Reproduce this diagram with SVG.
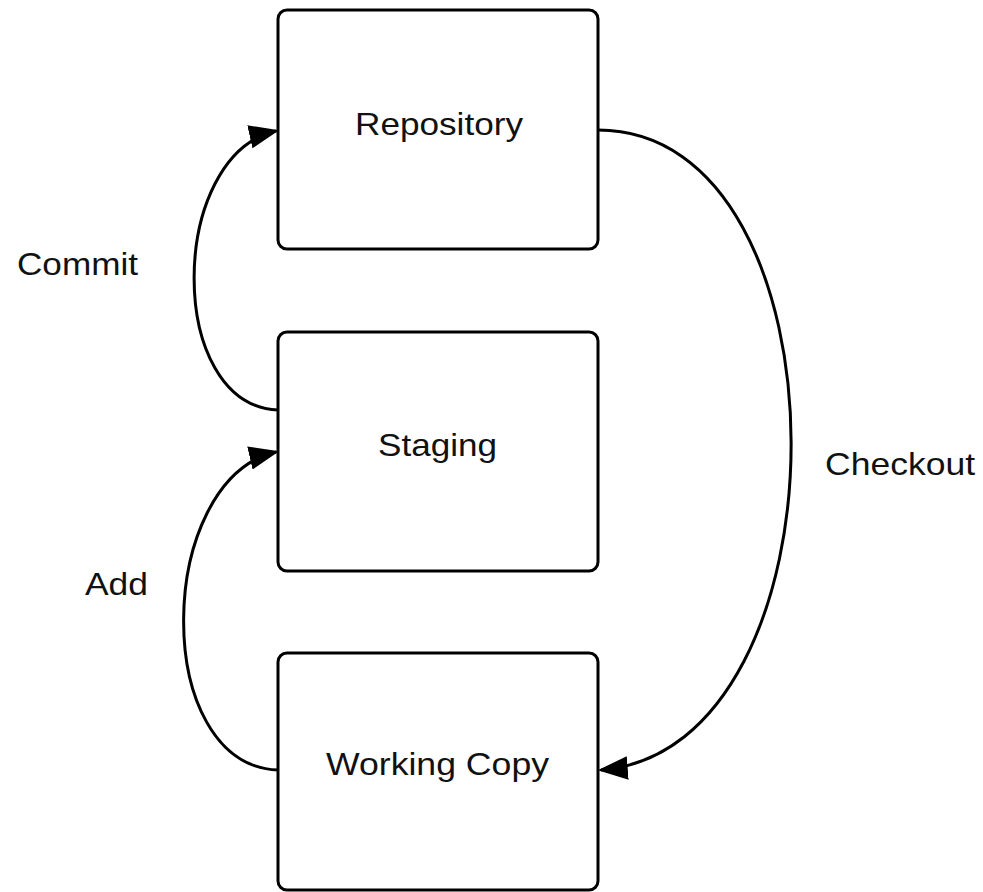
<svg xmlns="http://www.w3.org/2000/svg" width="983" height="892" viewBox="0 0 983 892">
<defs>
<style>
.box{fill:#ffffff;stroke:#000000;stroke-width:3}
.lbl{font-family:"Liberation Sans",Arial,sans-serif;font-size:32px;fill:#111111}
.edge{fill:none;stroke:#000000;stroke-width:3}
</style>
<marker id="arrow" markerUnits="userSpaceOnUse" markerWidth="30" markerHeight="24" viewBox="0 0 28 22" refX="25" refY="11" orient="auto">
<path d="M0,0 L28,11 L0,22 Z" fill="#000000"/>
</marker>
</defs>
<rect width="983" height="892" fill="#ffffff"/>
<g id="connectors">
<path id="commit" class="edge" d="M278,410 C165,405 168,155 276,131" marker-end="url(#arrow)"/>
<path id="add" class="edge" d="M278,770 C150,765 155,480 276,452" marker-end="url(#arrow)"/>
<path id="checkout" class="edge" d="M598,130 C855,130 855,750 601,770" marker-end="url(#arrow)"/>
<text class="lbl" x="17" y="275" textLength="121" lengthAdjust="spacingAndGlyphs">Commit</text>
<text class="lbl" x="85" y="595" textLength="63" lengthAdjust="spacingAndGlyphs">Add</text>
<text class="lbl" x="825" y="475" textLength="150" lengthAdjust="spacingAndGlyphs">Checkout</text>
</g>
<g id="repository">
<rect class="box" x="278" y="10" width="320" height="239" rx="9"/>
<text class="lbl" x="355" y="135" textLength="168" lengthAdjust="spacingAndGlyphs">Repository</text>
</g>
<g id="staging">
<rect class="box" x="278" y="332" width="320" height="239" rx="9"/>
<text class="lbl" x="378" y="456" textLength="119" lengthAdjust="spacingAndGlyphs">Staging</text>
</g>
<g id="working-copy">
<rect class="box" x="278" y="653" width="320" height="237" rx="9"/>
<text class="lbl" x="326" y="775" textLength="223" lengthAdjust="spacingAndGlyphs">Working Copy</text>
</g>
</svg>
